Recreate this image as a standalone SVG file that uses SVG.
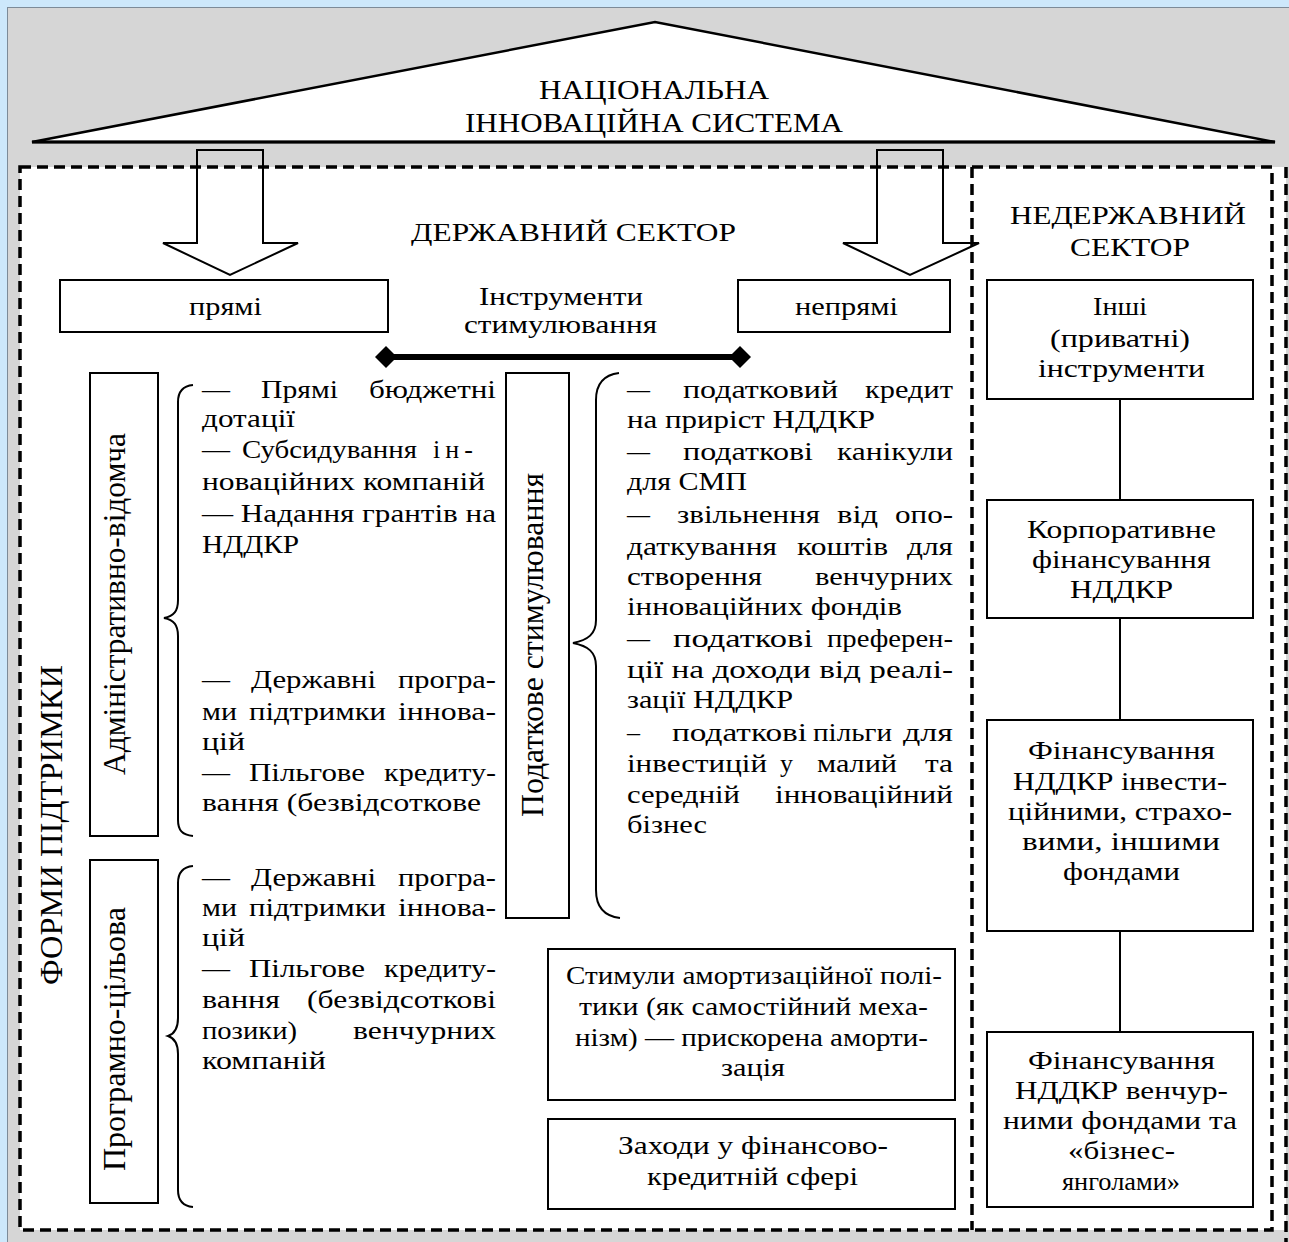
<svg xmlns="http://www.w3.org/2000/svg" width="1289" height="1242" viewBox="0 0 1289 1242">
<style>
.t{font-family:"Liberation Serif","DejaVu Serif",serif;font-size:26px;fill:#000}
.h{font-size:27px}
.v{font-size:31px;text-anchor:middle}
.box{fill:#fff;stroke:#000;stroke-width:2}
.dash{fill:none;stroke:#000;stroke-width:3.5;stroke-dasharray:11 6}
.ln{fill:none;stroke:#000;stroke-width:2}
.arr{fill:none;stroke:#000;stroke-width:2;stroke-linejoin:miter}
</style>
<rect x="0" y="0" width="1289" height="1242" fill="#cde8fb"/>
<rect x="7.5" y="7.5" width="1290" height="1240" fill="#d6d6d6" stroke="#7d8b98" stroke-width="1"/>
<rect x="20" y="167" width="1266" height="1063" fill="#fff"/>
<g id="frame">
<rect class="dash" x="20" y="167" width="1252" height="1063"/>
<line class="dash" x1="972" y1="167" x2="972" y2="1230"/>
<line class="dash" x1="1286" y1="167" x2="1286" y2="1245"/>
</g>
<g id="roof">
<polygon points="32,142 655,22 1275,142" fill="#fff" stroke="#000" stroke-width="2.5" stroke-linejoin="miter"/>
<line x1="32" y1="142" x2="1275" y2="142" stroke="#000" stroke-width="3"/>
<text class="t h" x="539" y="99" textLength="230" lengthAdjust="spacingAndGlyphs">НАЦІОНАЛЬНА</text>
<text class="t h" x="465" y="132" textLength="378" lengthAdjust="spacingAndGlyphs">ІННОВАЦІЙНА СИСТЕМА</text>
</g>
<g id="connectors">
<path class="arr" d="M197,150 L263,150 L263,243 L298,243 L230,275 L163,243 L197,243 Z"/>
<path class="arr" d="M877,150 L943,150 L943,243 L979,243 L910,275 L843,243 L877,243 Z"/>
<line x1="386" y1="357" x2="740" y2="357" stroke="#000" stroke-width="6"/>
<polygon points="375,357 386,346 397,357 386,368" fill="#000"/>
<polygon points="729,357 740,346 751,357 740,368" fill="#000"/>
<path class="ln" d="M193,385 C182,386 178,392 178,402 L178,600 C178,611 174,616 164,618 C174,620 178,625 178,636 L178,820 C178,830 182,835 193,836"/>
<path class="ln" d="M193,866 C182,867 178,873 178,883 L178,1018 C178,1029 174,1034 168,1036 C174,1038 178,1043 178,1054 L178,1190 C178,1200 182,1206 193,1207"/>
<path class="ln" d="M619,373 C603,375 596,385 596,400 L596,620 C596,634 588,640 573,643 C588,646 596,652 596,666 L596,890 C596,905 603,916 620,918"/>
<line class="ln" x1="1120" y1="399" x2="1120" y2="500"/>
<line class="ln" x1="1120" y1="618" x2="1120" y2="720"/>
<line class="ln" x1="1120" y1="931" x2="1120" y2="1032"/>
</g>
<g id="state-sector-label">
<text class="t" x="411" y="241" textLength="325" lengthAdjust="spacingAndGlyphs">ДЕРЖАВНИЙ СЕКТОР</text>
</g>
<g id="nonstate-sector-label">
<text class="t" x="1010" y="224" textLength="236" lengthAdjust="spacingAndGlyphs">НЕДЕРЖАВНИЙ</text>
<text class="t" x="1070" y="256" textLength="120" lengthAdjust="spacingAndGlyphs">СЕКТОР</text>
</g>
<g id="instruments-label">
<text class="t" x="479" y="305" textLength="164" lengthAdjust="spacingAndGlyphs">Інструменти</text>
<text class="t" x="464" y="333" textLength="193" lengthAdjust="spacingAndGlyphs">стимулювання</text>
</g>
<g id="direct">
<rect class="box" x="60" y="280" width="328" height="52"/>
<text class="t" x="189" y="315" textLength="73" lengthAdjust="spacingAndGlyphs">прямі</text>
</g>
<g id="indirect">
<rect class="box" x="738" y="280" width="212" height="52"/>
<text class="t" x="795" y="315" textLength="103" lengthAdjust="spacingAndGlyphs">непрямі</text>
</g>
<g id="forms-label">
<text class="t v" transform="translate(62,825) rotate(-90)" x="0" y="0" textLength="320" lengthAdjust="spacingAndGlyphs">ФОРМИ ПІДТРИМКИ</text>
</g>
<g id="admin">
<rect class="box" x="90" y="373" width="68" height="463"/>
<text class="t v" transform="translate(125,604) rotate(-90)" x="0" y="0" textLength="342" lengthAdjust="spacingAndGlyphs">Адміністративно-відомча</text>
</g>
<g id="admin-text">
<text class="t" x="202" y="398" textLength="28" lengthAdjust="spacingAndGlyphs">—</text>
<text class="t" x="261" y="398" textLength="77" lengthAdjust="spacingAndGlyphs">Прямі</text>
<text class="t" x="369" y="398" textLength="127" lengthAdjust="spacingAndGlyphs">бюджетні</text>
<text class="t" x="202" y="427" textLength="93" lengthAdjust="spacingAndGlyphs">дотації</text>
<text class="t" x="202" y="458" textLength="28" lengthAdjust="spacingAndGlyphs">—</text>
<text class="t" x="242" y="458" textLength="175" lengthAdjust="spacingAndGlyphs">Субсидування</text>
<text class="t" x="433" y="458" textLength="40" lengthAdjust="spacing">ін-</text>
<text class="t" x="202" y="490" textLength="283" lengthAdjust="spacingAndGlyphs">новаційних компаній</text>
<text class="t" x="202" y="522" textLength="294" lengthAdjust="spacingAndGlyphs">— Надання грантів на</text>
<text class="t" x="202" y="553" textLength="97" lengthAdjust="spacingAndGlyphs">НДДКР</text>
<text class="t" x="202" y="688" textLength="28" lengthAdjust="spacingAndGlyphs">—</text>
<text class="t" x="251" y="688" textLength="125" lengthAdjust="spacingAndGlyphs">Державні</text>
<text class="t" x="398" y="688" textLength="98" lengthAdjust="spacingAndGlyphs">програ-</text>
<text class="t" x="202" y="720" textLength="35" lengthAdjust="spacingAndGlyphs">ми</text>
<text class="t" x="249" y="720" textLength="137" lengthAdjust="spacingAndGlyphs">підтримки</text>
<text class="t" x="398" y="720" textLength="98" lengthAdjust="spacingAndGlyphs">іннова-</text>
<text class="t" x="202" y="750" textLength="43" lengthAdjust="spacingAndGlyphs">цій</text>
<text class="t" x="202" y="781" textLength="28" lengthAdjust="spacingAndGlyphs">—</text>
<text class="t" x="249" y="781" textLength="116" lengthAdjust="spacingAndGlyphs">Пільгове</text>
<text class="t" x="384" y="781" textLength="112" lengthAdjust="spacingAndGlyphs">кредиту-</text>
<text class="t" x="202" y="811" textLength="279" lengthAdjust="spacingAndGlyphs">вання (безвідсоткове</text>
</g>
<g id="program">
<rect class="box" x="90" y="860" width="68" height="343"/>
<text class="t v" transform="translate(125,1039) rotate(-90)" x="0" y="0" textLength="264" lengthAdjust="spacingAndGlyphs">Програмно-цільова</text>
</g>
<g id="program-text">
<text class="t" x="202" y="886" textLength="28" lengthAdjust="spacingAndGlyphs">—</text>
<text class="t" x="251" y="886" textLength="125" lengthAdjust="spacingAndGlyphs">Державні</text>
<text class="t" x="398" y="886" textLength="98" lengthAdjust="spacingAndGlyphs">програ-</text>
<text class="t" x="202" y="916" textLength="35" lengthAdjust="spacingAndGlyphs">ми</text>
<text class="t" x="249" y="916" textLength="137" lengthAdjust="spacingAndGlyphs">підтримки</text>
<text class="t" x="398" y="916" textLength="98" lengthAdjust="spacingAndGlyphs">іннова-</text>
<text class="t" x="202" y="946" textLength="43" lengthAdjust="spacingAndGlyphs">цій</text>
<text class="t" x="202" y="977" textLength="28" lengthAdjust="spacingAndGlyphs">—</text>
<text class="t" x="249" y="977" textLength="116" lengthAdjust="spacingAndGlyphs">Пільгове</text>
<text class="t" x="384" y="977" textLength="112" lengthAdjust="spacingAndGlyphs">кредиту-</text>
<text class="t" x="202" y="1008" textLength="78" lengthAdjust="spacingAndGlyphs">вання</text>
<text class="t" x="307" y="1008" textLength="189" lengthAdjust="spacingAndGlyphs">(безвідсоткові</text>
<text class="t" x="202" y="1039" textLength="95" lengthAdjust="spacingAndGlyphs">позики)</text>
<text class="t" x="353" y="1039" textLength="143" lengthAdjust="spacingAndGlyphs">венчурних</text>
<text class="t" x="202" y="1069" textLength="124" lengthAdjust="spacingAndGlyphs">компаній</text>
</g>
<g id="tax">
<rect class="box" x="506" y="373" width="63" height="545"/>
<text class="t v" transform="translate(543,645) rotate(-90)" x="0" y="0" textLength="344" lengthAdjust="spacingAndGlyphs">Податкове стимулювання</text>
</g>
<g id="tax-text">
<text class="t" x="627" y="398" textLength="23" lengthAdjust="spacingAndGlyphs">—</text>
<text class="t" x="683" y="398" textLength="155" lengthAdjust="spacingAndGlyphs">податковий</text>
<text class="t" x="865" y="398" textLength="88" lengthAdjust="spacingAndGlyphs">кредит</text>
<text class="t" x="627" y="428" textLength="248" lengthAdjust="spacingAndGlyphs">на приріст НДДКР</text>
<text class="t" x="627" y="460" textLength="23" lengthAdjust="spacingAndGlyphs">—</text>
<text class="t" x="683" y="460" textLength="130" lengthAdjust="spacingAndGlyphs">податкові</text>
<text class="t" x="837" y="460" textLength="116" lengthAdjust="spacingAndGlyphs">канікули</text>
<text class="t" x="627" y="490" textLength="120" lengthAdjust="spacingAndGlyphs">для СМП</text>
<text class="t" x="627" y="523" textLength="23" lengthAdjust="spacingAndGlyphs">—</text>
<text class="t" x="677" y="523" textLength="143" lengthAdjust="spacingAndGlyphs">звільнення</text>
<text class="t" x="837" y="523" textLength="41" lengthAdjust="spacingAndGlyphs">від</text>
<text class="t" x="895" y="523" textLength="58" lengthAdjust="spacingAndGlyphs">опо-</text>
<text class="t" x="627" y="555" textLength="150" lengthAdjust="spacingAndGlyphs">даткування</text>
<text class="t" x="797" y="555" textLength="91" lengthAdjust="spacingAndGlyphs">коштів</text>
<text class="t" x="907" y="555" textLength="46" lengthAdjust="spacingAndGlyphs">для</text>
<text class="t" x="627" y="585" textLength="135" lengthAdjust="spacingAndGlyphs">створення</text>
<text class="t" x="815" y="585" textLength="138" lengthAdjust="spacingAndGlyphs">венчурних</text>
<text class="t" x="627" y="615" textLength="275" lengthAdjust="spacingAndGlyphs">інноваційних фондів</text>
<text class="t" x="627" y="647" textLength="23" lengthAdjust="spacingAndGlyphs">—</text>
<text class="t" x="673" y="647" textLength="140" lengthAdjust="spacingAndGlyphs">податкові</text>
<text class="t" x="827" y="647" textLength="126" lengthAdjust="spacingAndGlyphs">преферен-</text>
<text class="t" x="627" y="678" textLength="326" lengthAdjust="spacingAndGlyphs">ції на доходи від реалі-</text>
<text class="t" x="627" y="708" textLength="166" lengthAdjust="spacingAndGlyphs">зації НДДКР</text>
<text class="t" x="627" y="741" textLength="13" lengthAdjust="spacingAndGlyphs">–</text>
<text class="t" x="672" y="741" textLength="135" lengthAdjust="spacingAndGlyphs">податкові</text>
<text class="t" x="813" y="741" textLength="79" lengthAdjust="spacingAndGlyphs">пільги</text>
<text class="t" x="903" y="741" textLength="50" lengthAdjust="spacingAndGlyphs">для</text>
<text class="t" x="627" y="772" textLength="140" lengthAdjust="spacingAndGlyphs">інвестицій</text>
<text class="t" x="780" y="772" textLength="13" lengthAdjust="spacingAndGlyphs">у</text>
<text class="t" x="817" y="772" textLength="80" lengthAdjust="spacingAndGlyphs">малий</text>
<text class="t" x="925" y="772" textLength="28" lengthAdjust="spacingAndGlyphs">та</text>
<text class="t" x="627" y="803" textLength="113" lengthAdjust="spacingAndGlyphs">середній</text>
<text class="t" x="775" y="803" textLength="178" lengthAdjust="spacingAndGlyphs">інноваційний</text>
<text class="t" x="627" y="833" textLength="80" lengthAdjust="spacingAndGlyphs">бізнес</text>
</g>
<g id="depreciation">
<rect class="box" x="548" y="949" width="407" height="151"/>
<text class="t" x="566" y="984" textLength="376" lengthAdjust="spacingAndGlyphs">Стимули амортизаційної полі-</text>
<text class="t" x="579" y="1015" textLength="349" lengthAdjust="spacingAndGlyphs">тики (як самостійний меха-</text>
<text class="t" x="575" y="1046" textLength="353" lengthAdjust="spacingAndGlyphs">нізм) — прискорена аморти-</text>
<text class="t" x="721" y="1076" textLength="64" lengthAdjust="spacingAndGlyphs">зація</text>
</g>
<g id="finance-credit">
<rect class="box" x="548" y="1119" width="407" height="90"/>
<text class="t" x="618" y="1154" textLength="270" lengthAdjust="spacingAndGlyphs">Заходи у фінансово-</text>
<text class="t" x="647" y="1185" textLength="211" lengthAdjust="spacingAndGlyphs">кредитній сфері</text>
</g>
<g id="private-tools">
<rect class="box" x="987" y="280" width="266" height="119"/>
<text class="t" x="1093" y="315" textLength="54" lengthAdjust="spacingAndGlyphs">Інші</text>
<text class="t" x="1050" y="347" textLength="140" lengthAdjust="spacingAndGlyphs">(приватні)</text>
<text class="t" x="1038" y="377" textLength="167" lengthAdjust="spacingAndGlyphs">інструменти</text>
</g>
<g id="corporate">
<rect class="box" x="987" y="500" width="266" height="118"/>
<text class="t" x="1027" y="538" textLength="189" lengthAdjust="spacingAndGlyphs">Корпоративне</text>
<text class="t" x="1032" y="568" textLength="179" lengthAdjust="spacingAndGlyphs">фінансування</text>
<text class="t" x="1070" y="598" textLength="103" lengthAdjust="spacingAndGlyphs">НДДКР</text>
</g>
<g id="funds">
<rect class="box" x="987" y="720" width="266" height="211"/>
<text class="t" x="1028" y="759" textLength="187" lengthAdjust="spacingAndGlyphs">Фінансування</text>
<text class="t" x="1013" y="790" textLength="214" lengthAdjust="spacingAndGlyphs">НДДКР інвести-</text>
<text class="t" x="1008" y="820" textLength="224" lengthAdjust="spacingAndGlyphs">ційними, страхо-</text>
<text class="t" x="1022" y="850" textLength="198" lengthAdjust="spacingAndGlyphs">вими, іншими</text>
<text class="t" x="1063" y="880" textLength="117" lengthAdjust="spacingAndGlyphs">фондами</text>
</g>
<g id="venture">
<rect class="box" x="987" y="1032" width="266" height="175"/>
<text class="t" x="1028" y="1069" textLength="187" lengthAdjust="spacingAndGlyphs">Фінансування</text>
<text class="t" x="1015" y="1099" textLength="213" lengthAdjust="spacingAndGlyphs">НДДКР венчур-</text>
<text class="t" x="1003" y="1129" textLength="234" lengthAdjust="spacingAndGlyphs">ними фондами та</text>
<text class="t" x="1068" y="1159" textLength="107" lengthAdjust="spacingAndGlyphs">«бізнес-</text>
<text class="t" x="1062" y="1190" textLength="118" lengthAdjust="spacingAndGlyphs">янголами»</text>
</g>
</svg>
